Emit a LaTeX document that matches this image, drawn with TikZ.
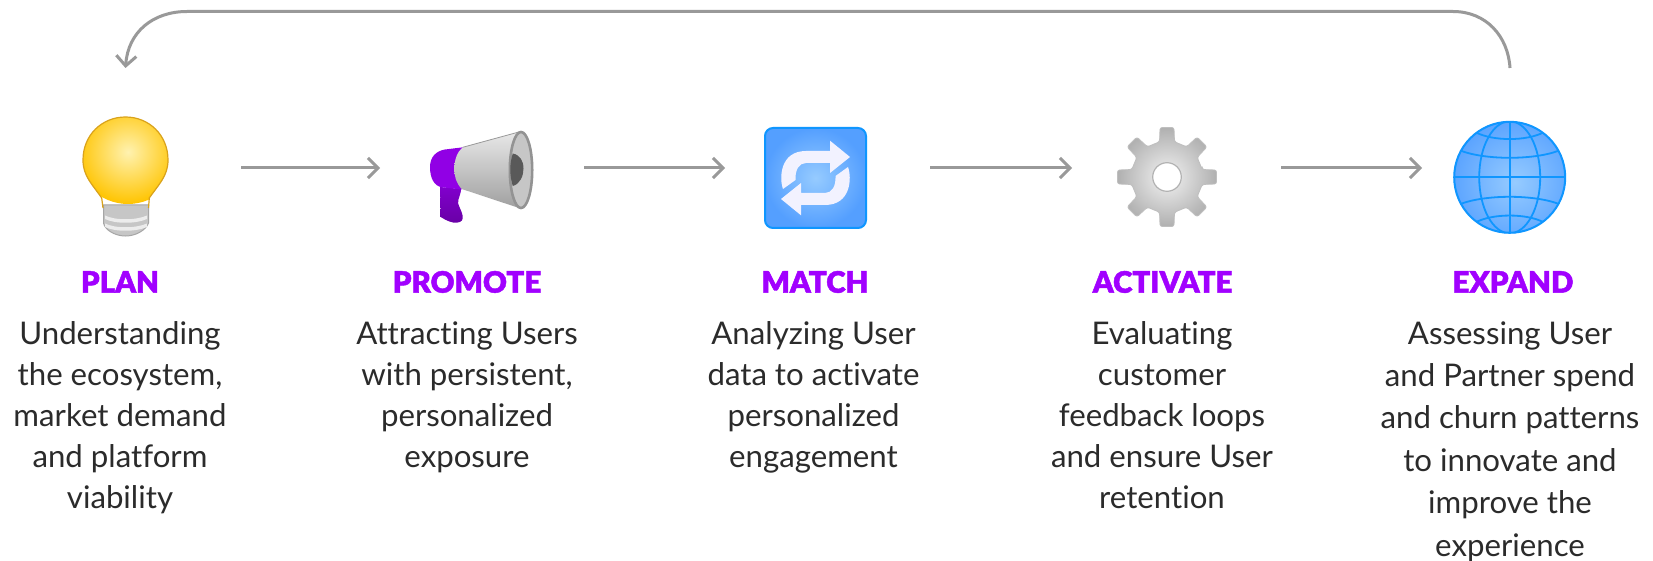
\documentclass[tikz,border=0pt]{standalone}
\usepackage{fontspec}
\usetikzlibrary{arrows.meta}
\setmainfont{Lato}[Ligatures=NoCommon]
\newfontfamily\headfont{Lato Black}[FakeBold=1.6]
\definecolor{headpurple}{HTML}{A100FF}
\definecolor{bodyink}{HTML}{2B2B2B}
\definecolor{linkgray}{HTML}{999999}
\definecolor{blueedge}{HTML}{0F96FF}
\definecolor{bulbin}{HTML}{FFF2B0}
\definecolor{bulbout}{HTML}{FFC400}
\definecolor{bulbedge}{HTML}{D9A21B}
\definecolor{skyin}{HTML}{96CBFF}
\definecolor{skyout}{HTML}{549FFF}
\tikzset{
  iconbox/.style={inner sep=0pt,outer sep=0pt,minimum height=10pt},
  flow/.style={draw=linkgray,line width=3pt,-{Straight Barb[length=10pt,width=20pt,line width=3pt]}},
  headtext/.style={anchor=base,inner sep=0pt,text=headpurple,font=\headfont\fontsize{29.5}{29.5}\selectfont},
  bodytext/.style={anchor=base,inner sep=0pt,text=bodyink,align=center,font=\fontsize{31.2}{41}\selectfont},
  globeline/.style={draw=blueedge,line width=1.8pt}
}
\begin{document}
\begin{tikzpicture}[x=1pt,y=-1pt]
\useasboundingbox (0,0) rectangle (1653,561);
\fill[white] (0,0) rectangle (1653,561);

% invisible icon frames used by the connectors
\node[iconbox,minimum width=85pt] (bulb) at (125.5,168) {};
\node[iconbox,minimum width=103pt] (horn) at (481.5,168) {};
\node[iconbox,minimum width=103pt] (loopicon) at (815.5,168) {};
\node[iconbox,minimum width=100pt] (cog) at (1167,168) {};
\node[iconbox,minimum width=112pt] (globe) at (1510,168) {};
\coordinate (loopstart) at (1510,68);
\coordinate (loopend) at (125.5,68);

% connectors
\draw[flow,shorten <=73pt,shorten >=50pt] (bulb.east) -- (horn.west);
\draw[flow,shorten <=51pt,shorten >=39pt] (horn.east) -- (loopicon.west);
\draw[flow,shorten <=63pt,shorten >=45pt] (loopicon.east) -- (cog.west);
\draw[flow,shorten <=64pt,shorten >=32pt] (cog.east) -- (globe.west);
\draw[flow] (loopstart) .. controls (1508,36) and (1486,11.5) .. (1453,11.5) -- (187,11.5)
  .. controls (153,11.5) and (128,32) .. (loopend);

% bulb
\filldraw[draw=gray!70,line width=1pt,fill=gray!45] (103.5,205) -- (103.5,223) .. controls (105,230) and (115,236) .. (125.5,236) .. controls (136,236) and (146,230) .. (148.5,223) -- (148.5,205) -- cycle;
\foreach \yy in {219,227}
  \fill[white!85!gray] (105,\yy) .. controls (115,\yy+5) and (136,\yy+5) .. (147,\yy) -- (147,\yy-3.5) .. controls (136,\yy+1.5) and (115,\yy+1.5) .. (105,\yy-3.5) -- cycle;
\begin{scope}
  \clip (101.7,198) .. controls (92,184) and (83,176) .. (83,160) .. controls (83,135) and (102,117) .. (125.5,117) .. controls (149,117) and (168,135) .. (168,160) .. controls (168,176) and (159,184) .. (149.3,198) .. controls (148,205) and (148,208) .. (148,209) .. controls (140,215) and (112,215) .. (103,209) .. controls (103,208) and (103,205) .. (101.7,198) -- cycle;
  \shade[inner color=bulbin,outer color=bulbout] (128,152) circle (52);
\end{scope}
\draw[draw=bulbedge,line width=1.2pt] (103,208) -- (101.7,198) .. controls (92,184) and (83,176) .. (83,160) .. controls (83,135) and (102,117) .. (125.5,117) .. controls (149,117) and (168,135) .. (168,160) .. controls (168,176) and (159,184) .. (149.3,198) -- (148.5,208);

% megaphone
\shade[top color=headpurple!80!black,bottom color=headpurple!65!black] (440,187) -- (440.7,217) .. controls (447,221) and (452,223) .. (456.7,222.7) .. controls (462,222) and (463,220) .. (462.7,216) .. controls (461,208) and (457,205) .. (458.3,200) .. controls (459,196) and (461,194) .. (461,189) -- cycle;
\fill[headpurple!90!black] (463,147.3) -- (445,149.5) .. controls (436,151) and (430,157) .. (430,167) .. controls (430,178) and (434,186) .. (442,187.3) -- (462,189.5) -- cycle;
\shade[top color=gray!18,middle color=gray!38,bottom color=gray!75] (462.7,147.3) -- (520,131.7) -- (520,208.3) -- (461.7,189) .. controls (456,183) and (454,175) .. (454.3,168) .. controls (454.5,160) and (457,152) .. (462.7,147.3) -- cycle;
\draw[gray!80,line width=0.8pt] (462.7,147.3) -- (520,131.7);
\filldraw[draw=gray!85,line width=2.6pt,fill=gray!45] (521,170) ellipse (11.2 and 38);
\fill[gray!70!black] (512.8,153.5) .. controls (520,155) and (523.5,161) .. (523.5,168.5) .. controls (523.5,176) and (520,184) .. (512.8,186) .. controls (509.5,176) and (509.5,163) .. (512.8,153.5) -- cycle;

% loop icon
\shade[inner color=skyin,outer color=skyout] (765,128) [rounded corners=8pt] -- (866,128) -- (866,228) -- (765,228) -- cycle;
\draw[draw=blueedge,line width=2pt,rounded corners=8pt] (765,128) -- (866,128) -- (866,228) -- (765,228) -- cycle;
\foreach \ang in {0,180}
  \fill[white!95!blue,rotate around={\ang:(815.5,178)}] (830,140.7) -- (850,157) -- (830,173) -- (830,163) -- (806,163) .. controls (799,163) and (795,170) .. (795.5,180) -- (783,189) .. controls (779,178) and (780,151) .. (806,151) -- (830,151) -- cycle;

% cog
\begin{scope}[shift={(1167,177)}]
  \shade[inner color=gray!10,outer color=gray!62,draw=gray!50,line width=0.8pt,rounded corners=2.2pt]
    (-12:36) \foreach \a in {0,45,...,315} { -- (\a-12:36) -- (\a-8:50) -- (\a+8:50) -- (\a+12:36) } -- cycle;
  \filldraw[fill=white,draw=gray!60,line width=1.2pt] (0,0) circle (14.3);
\end{scope}

% globe
\begin{scope}[shift={(1509.7,177.3)}]
  \begin{scope}
    \clip (0,0) circle (56);
    \shade[inner color=skyin,outer color=skyout] (5,5) circle (70);
    \draw[globeline] (0,-56) -- (0,56) (-56,0) -- (56,0);
    \draw[globeline] (0,0) ellipse (30.5 and 56);
    \foreach \s in {1,-1} {
      \draw[globeline] (-50,\s*27) .. controls (-25,\s*17) and (25,\s*17) .. (50,\s*27);
      \draw[globeline] (-34,\s*45) .. controls (-17,\s*36) and (17,\s*36) .. (34,\s*45);
    }
  \end{scope}
  \draw[draw=blueedge,line width=2pt] (0,0) circle (55.5);
\end{scope}

% text
\node[headtext] (planh) at (120,292.7) {PLAN};
\node[headtext] (promoteh) at (467,292.7) {PROMOTE};
\node[headtext] (matchh) at (815,292.7) {MATCH};
\node[headtext] (activateh) at (1162.6,292.7) {ACTIVATE};
\node[headtext] (expandh) at (1513,292.7) {EXPAND};

\node[bodytext] (plant) at (120,508) {Understanding\\the ecosystem,\\market demand\\and platform\\viability};
\node[bodytext] (promotet) at (467,467) {Attracting Users\\with persistent,\\personalized\\exposure};
\node[bodytext] (matcht) at (813.5,467) {Analyzing User\\data to activate\\personalized\\engagement};
\node[bodytext] (activatet) at (1162,508) {Evaluating\\customer\\feedback loops\\and ensure User\\retention};
\node[bodytext,font=\fontsize{31.2}{42.4}\selectfont] (expandt) at (1510,556) {Assessing User\\and Partner spend\\and churn patterns\\to innovate and\\improve the\\experience};
\end{tikzpicture}
\end{document}
